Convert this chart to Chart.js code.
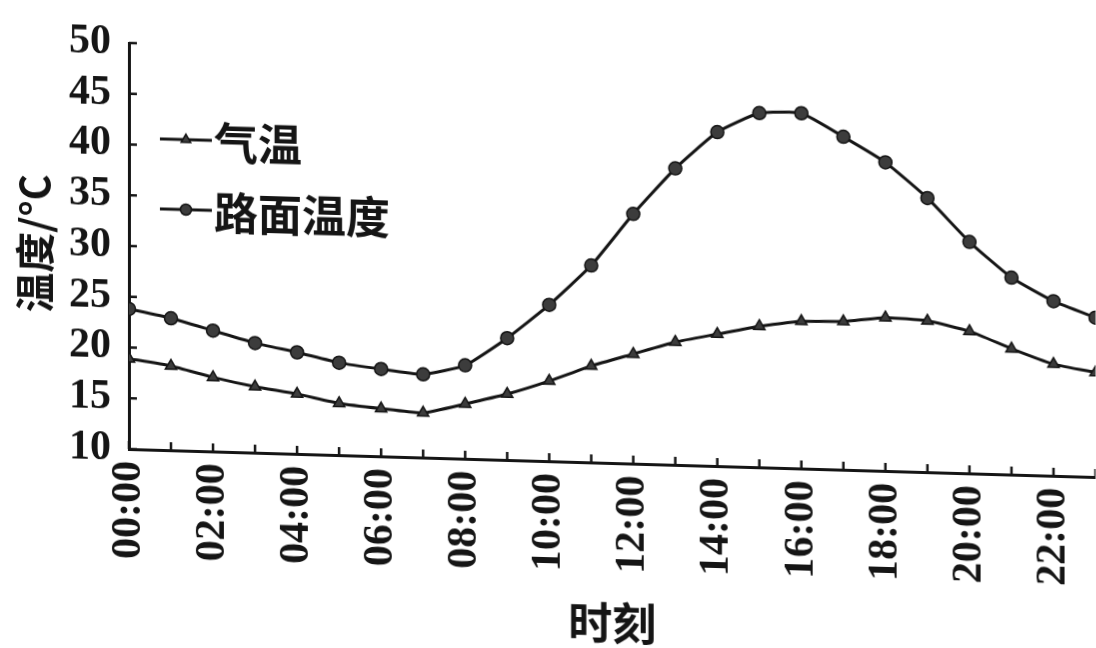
<!DOCTYPE html>
<html>
<head>
<meta charset="utf-8">
<title>气温与路面温度</title>
<script src="https://cdn.jsdelivr.net/npm/chart.js@4.4.1/dist/chart.umd.min.js"></script>
<style>
    html, body {
        margin: 0;
        padding: 0;
        background: #fff;
        overflow: hidden;
    }
    #wrap {
        width: 1096px;
        height: 648px;
        /* the scanned figure leans a little: right side sits lower */
        transform-origin: 129px 0;
        transform: skewY(1.66deg);
    }
</style>
</head>
<body>
<div id="wrap">
    <canvas id="tempChart" width="1096" height="648"></canvas>
</div>
<script>
// hourly readings, 00:00 .. 23:00
const hours = [0, 1, 2, 3, 4, 5, 6, 7, 8, 9, 10, 11, 12, 13, 14, 15, 16, 17, 18, 19, 20, 21, 22, 23];
const hourLabels = ['00:00', '01:00', '02:00', '03:00', '04:00', '05:00', '06:00', '07:00',
    '08:00', '09:00', '10:00', '11:00', '12:00', '13:00', '14:00', '15:00',
    '16:00', '17:00', '18:00', '19:00', '20:00', '21:00', '22:00', '23:00'];
const airTemp = [18.9, 18.3, 17.3, 16.5, 15.9, 15.1, 14.7, 14.4, 15.4, 16.5, 17.9, 19.5,
    20.8, 22.1, 23.0, 23.9, 24.5, 24.6, 25.1, 24.9, 24.0, 22.4, 21.0, 20.3];
const roadTemp = [23.8, 23.0, 21.9, 20.8, 20.0, 19.1, 18.6, 18.2, 19.2, 22.0, 25.4, 29.4,
    34.6, 39.2, 42.9, 44.9, 45.0, 42.8, 40.4, 37.0, 32.8, 29.4, 27.2, 25.7];
const yTicks = [10, 15, 20, 25, 30, 35, 40, 45, 50];
const seriesNames = ['气温', '路面温度'];

const ink = '#151515';
const serif = '"Liberation Serif", "DejaVu Serif", serif';
const cjk = '"Noto Sans CJK SC", "Noto Sans", sans-serif';

// small tick marks pointing into the plot, one per hour and one per y step
const inwardTicks = {
    id: 'inwardTicks',
    afterDraw(chart) {
        const ctx = chart.ctx;
        const xs = chart.scales.x;
        const ys = chart.scales.y;
        const area = chart.chartArea;
        ctx.save();
        ctx.strokeStyle = ink;
        ctx.lineWidth = 2.5;
        ctx.beginPath();
        for (let h of hours) {
            const px = xs.getPixelForValue(h);
            ctx.moveTo(px, area.bottom);
            ctx.lineTo(px, area.bottom - 8);
        }
        for (let v of yTicks) {
            const py = ys.getPixelForValue(v);
            ctx.moveTo(area.left, py);
            ctx.lineTo(area.left + 8, py);
        }
        ctx.stroke();
        ctx.restore();
    }
};

// legend sits inside the plot, upper left, one row per series
const innerLegend = {
    id: 'innerLegend',
    afterDraw(chart) {
        const ctx = chart.ctx;
        const rows = [138, 208];
        ctx.save();
        chart.data.datasets.forEach((ds, i) => {
            const y = rows[i];
            ctx.strokeStyle = ds.borderColor;
            ctx.lineWidth = ds.borderWidth;
            ctx.beginPath();
            ctx.moveTo(160, y);
            ctx.lineTo(212, y);
            ctx.stroke();
            ctx.fillStyle = ds.pointBackgroundColor;
            ctx.strokeStyle = ds.pointBorderColor;
            ctx.lineWidth = ds.pointBorderWidth;
            Chart.helpers.drawPoint(ctx, {
                pointStyle: ds.pointStyle,
                radius: ds.pointRadius - 1,
                rotation: 0,
                borderWidth: ds.pointBorderWidth
            }, 186, y);
            ctx.fillStyle = ink;
            ctx.font = `bold 44px ${cjk}`;
            ctx.textAlign = 'left';
            ctx.textBaseline = 'middle';
            ctx.fillText(ds.label, 214, y + 2);
        });
        ctx.restore();
    }
};

function makeSeries(label, values, style) {
    return {
        label: label,
        data: hours.map((h, i) => ({x: h, y: values[i]})),
        borderColor: ink,
        borderWidth: 3,
        tension: 0.15,
        pointStyle: style,
        pointRadius: 6.5,
        pointBackgroundColor: '#3c3c3c',
        pointBorderColor: ink,
        pointBorderWidth: 1.5
    };
}

const ctx = document.getElementById('tempChart').getContext('2d');
new Chart(ctx, {
    type: 'line',
    data: {
        datasets: [
            makeSeries(seriesNames[0], airTemp, 'triangle'),
            makeSeries(seriesNames[1], roadTemp, 'circle')
        ]
    },
    options: {
        responsive: false,
        animation: false,
        devicePixelRatio: 1,
        layout: {
            autoPadding: false,
            padding: {top: 43, left: 0, right: 0, bottom: 0}
        },
        plugins: {
            legend: {display: false},
            tooltip: {enabled: false}
        },
        scales: {
            x: {
                type: 'linear',
                min: 0,
                max: 23,
                afterFit(scale) {
                    scale.height = 199;
                    // the hour axis runs right to the edge
                    scale.paddingLeft = 0;
                    scale.paddingRight = 0;
                },
                afterBuildTicks(scale) {
                    scale.ticks = hours.map(h => ({value: h}));
                },
                grid: {display: true, drawOnChartArea: false, drawTicks: false},
                border: {display: true, color: ink, width: 3},
                ticks: {
                    autoSkip: false,
                    minRotation: 90,
                    maxRotation: 90,
                    padding: 12,
                    color: ink,
                    font: {family: serif, size: 42, weight: 'bold'},
                    callback: (v) => (v % 2 === 0 ? hourLabels[v] : '')
                },
                title: {
                    display: true,
                    text: '时刻',
                    color: ink,
                    font: {family: cjk, size: 44, weight: 'bold'},
                    padding: {top: 0, bottom: 12}
                }
            },
            y: {
                min: 10,
                max: 50,
                afterFit(scale) {
                    scale.width = 129;
                    scale.paddingTop = 0;
                    scale.paddingBottom = 0;
                },
                afterBuildTicks(scale) {
                    scale.ticks = yTicks.map(v => ({value: v}));
                },
                grid: {display: true, drawOnChartArea: false, drawTicks: false},
                border: {display: true, color: ink, width: 3},
                ticks: {
                    autoSkip: false,
                    padding: 18,
                    color: ink,
                    font: {family: serif, size: 42, weight: 'bold'}
                },
                title: {
                    display: true,
                    text: '温度/°C',
                    color: ink,
                    font: {family: cjk, size: 40, weight: 'bold'},
                    padding: {top: 11, bottom: 0}
                }
            }
        }
    },
    plugins: [inwardTicks, innerLegend]
});
</script>
</body>
</html>
